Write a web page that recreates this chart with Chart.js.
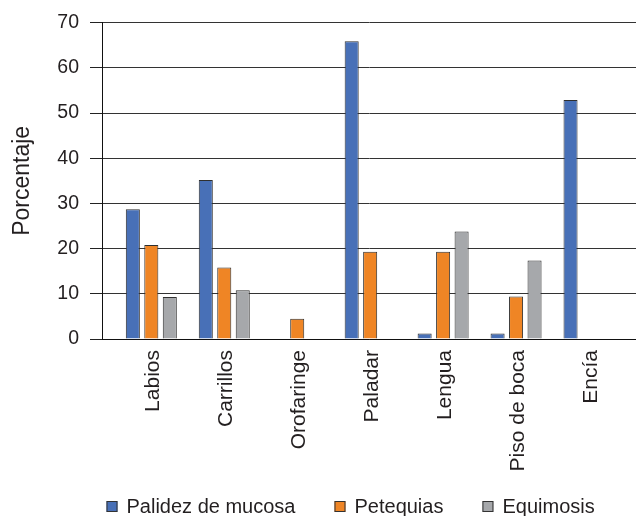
<!DOCTYPE html>
<html lang="es">
<head>
<meta charset="utf-8">
<title>Lesiones en mucosa oral</title>
<script src="https://cdn.jsdelivr.net/npm/chart.js@4/dist/chart.umd.min.js"></script>
<style>
  html, body { margin: 0; padding: 0; background: #ffffff; }
  #wrap { width: 636px; height: 516px; }
</style>
</head>
<body>
<div id="wrap"><canvas id="chart" width="636" height="516"></canvas></div>
<script>
// Sitios de la cavidad oral (eje X)
const categories = ['Labios', 'Carrillos', 'Orofaringe', 'Paladar', 'Lengua', 'Piso de boca', 'Encía'];

// Porcentaje por tipo de lesión (null = sin lesión registrada)
const palidezMucosa = [28.7, 35.2, null, 65.9, 1.2, 1.2, 52.9];
const petequias     = [20.8, 15.8, 4.5, 19.3, 19.3, 9.4, null];
const equimosis     = [9.3, 10.8, null, null, 23.8, 17.4, null];

// Marcas del eje Y
const yTicks = [0, 10, 20, 30, 40, 50, 60, 70];

const seriesNames  = ['Palidez de mucosa', 'Petequias', 'Equimosis'];
const seriesValues = [palidezMucosa, petequias, equimosis];
const seriesColors = ['#4870b7', '#ef8525', '#a6a8ab'];

const FONT = '"Liberation Sans", Arial, Helvetica, sans-serif';
const INK = '#231f20';

// Leyenda dibujada bajo el gráfico a partir de los conjuntos de datos
const bottomLegend = {
  id: 'bottomLegend',
  afterDraw(chart) {
    const ctx = chart.ctx;
    ctx.save();
    ctx.font = '20px ' + FONT;
    ctx.textBaseline = 'alphabetic';
    let x = 106.5;
    chart.data.datasets.forEach(ds => {
      ctx.fillStyle = ds.backgroundColor;
      ctx.fillRect(x, 501, 11, 11);
      ctx.strokeStyle = '#333333';
      ctx.lineWidth = 1;
      ctx.strokeRect(x + 0.5, 501.5, 10, 10);
      ctx.fillStyle = INK;
      ctx.fillText(ds.label, x + 20, 513);
      x += 20 + ctx.measureText(ds.label).width + 39;
    });
    ctx.restore();
  }
};

const datasets = seriesNames.map((name, s) => ({
  label: name,
  data: seriesValues[s].map((v, i) => ({ x: i, y: v })),
  backgroundColor: seriesColors[s],
  borderColor: '#2f2f2f',
  borderWidth: 1,
  categoryPercentage: 0.76,
  barPercentage: 0.76
}));

new Chart(document.getElementById('chart'), {
  type: 'bar',
  data: { datasets },
  options: {
    responsive: false,
    devicePixelRatio: 1,
    animation: false,
    layout: { padding: { top: 20, left: 0, right: 0, bottom: 0 } },
    plugins: {
      legend: { display: false },
      tooltip: { enabled: false }
    },
    scales: {
      x: {
        type: 'linear',
        offset: false,
        bounds: 'data',
        min: -0.676,
        max: 6.644,
        afterBuildTicks(scale) {
          scale.ticks = categories.map((_, i) => ({ value: i }));
        },
        afterFit(scale) { scale.height = 177; },
        grid: { display: false },
        border: { display: true, color: '#111111', width: 1 },
        ticks: {
          autoSkip: false,
          minRotation: 90,
          maxRotation: 90,
          padding: 3,
          labelOffset: 2,
          color: INK,
          font: { family: FONT, size: 21 },
          callback: (value) => categories[value]
        }
      },
      y: {
        min: 0,
        max: 70,
        afterBuildTicks(scale) {
          scale.ticks = yTicks.map(v => ({ value: v }));
        },
        afterFit(scale) { scale.width = 102; },
        grid: { color: '#333333', lineWidth: 1, tickLength: 12, drawTicks: true, tickColor: '#222222' },
        border: { display: true, color: '#111111', width: 1 },
        ticks: {
          padding: 11,
          color: INK,
          font: { family: FONT, size: 19.5 }
        },
        title: {
          display: true,
          text: 'Porcentaje',
          color: INK,
          font: { family: FONT, size: 23 },
          padding: { top: 9, bottom: 0 }
        }
      }
    }
  },
  plugins: [bottomLegend]
});
</script>
</body>
</html>
